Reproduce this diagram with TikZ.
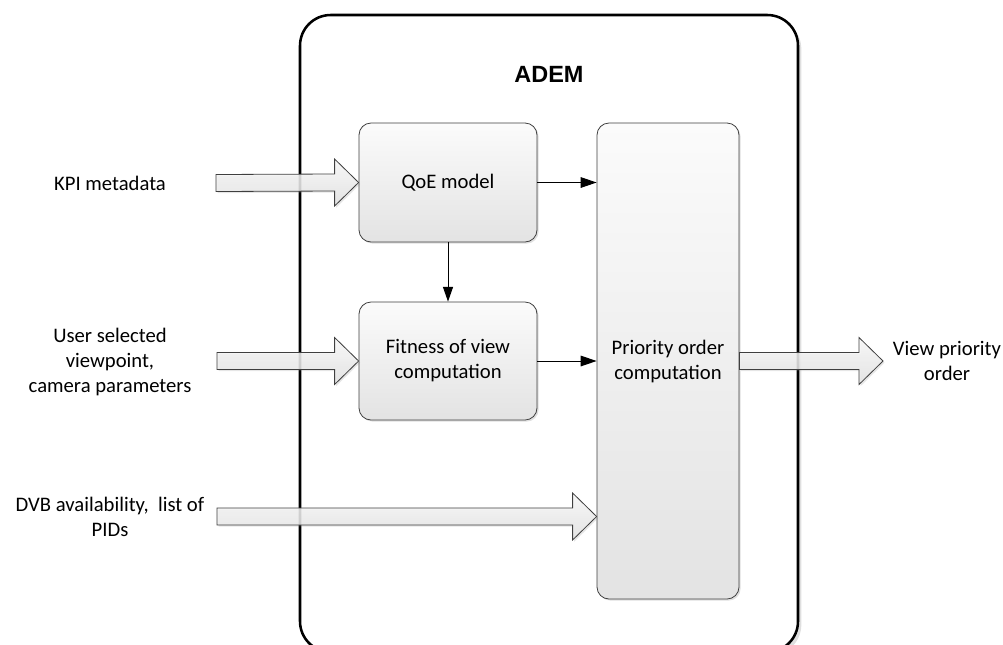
\documentclass[tikz,border=0pt]{standalone}
\usepackage{fontspec}
\setmainfont{Carlito}
\newfontfamily\adfont{Liberation Sans}
\usetikzlibrary{arrows.meta,calc,shadows}
\definecolor{boxline}{HTML}{3F3F3F}
\definecolor{shtop}{HTML}{FBFBFB}
\definecolor{shbot}{HTML}{E3E3E3}
\newcommand\blockarr[2]{%
  \path[barrow] ($(#1)+(0,-8.5)$) -- ($(#2)+(-24,-8.5)$) -- ($(#2)+(-24,-23.5)$) -- (#2)
    -- ($(#2)+(-24,23.5)$) -- ($(#2)+(-24,8.5)$) -- ($(#1)+(0,8.5)$) -- cycle;}
\begin{document}
\begin{tikzpicture}[x=0.75pt,y=-0.75pt,
  txt/.style={font=\fontsize{15.5}{18.75}\selectfont, align=center, inner sep=0pt},
  proc/.style={draw=boxline, line width=0.6pt, rounded corners=9pt, top color=shtop, bottom color=shbot,
    drop shadow={shadow xshift=1.2pt, shadow yshift=-1.2pt, opacity=0.25}, inner sep=0pt,
    font=\fontsize{15.5}{18.75}\selectfont, align=center},
  barrow/.style={draw=boxline, line width=0.6pt, top color=shtop, bottom color=shbot, fill opacity=0.85,
    drop shadow={shadow xshift=1.2pt, shadow yshift=-1.2pt, opacity=0.2}},
  thin/.style={draw=black, line width=0.75pt, -{Triangle[length=12pt,width=8pt]}}]
\useasboundingbox (0,0) rectangle (1003,644);
\begin{scope}
\clip (0,0) rectangle (1003,644);
% outer ADEM container
\draw[line width=1.9pt, rounded corners=23pt, fill=white,
  drop shadow={shadow xshift=2.5pt, shadow yshift=-2.5pt, opacity=0.25}] (300,15) rectangle (798,652);
\end{scope}
\node[font=\adfont\bfseries\fontsize{17.6}{20}\selectfont, inner sep=0pt] (adem) at (549,74) {ADEM};

% process boxes
\node[proc, minimum width=133.5pt, minimum height=89.25pt] (qoe) at (448,182.5) {QoE model};
\node[proc, minimum width=133.5pt, minimum height=88.5pt] (fit) at (448,361) {Fitness of view\\computation};
\node[proc, minimum width=106.5pt, minimum height=357pt] (prio) at (668,361) {Priority order\\computation};

% labels
\node[txt] (kpi) at (110,183) {KPI metadata};
\node[txt] (user) at (110,362) {User selected\\viewpoint,\\camera parameters};
\node[txt] (dvb) at (110,517) {DVB availability,\ \ list of\\PIDs};
\node[txt] (view) at (947,361) {View priority\\order};

% block arrow anchor points
\coordinate (kpiS) at (216,183);
\coordinate (userS) at (217,361);
\coordinate (dvbS) at (217,516.5);
\coordinate (outE) at (883,361);
\coordinate (dvbE) at (prio.west |- dvbS);
\coordinate (outS) at (prio.east |- outE);

\blockarr{kpiS}{qoe.west}
\blockarr{userS}{fit.west}
\blockarr{dvbS}{dvbE}
\blockarr{outS}{outE}

% thin connectors
\draw[thin] (qoe.east) -- (qoe.east -| prio.west);
\draw[thin, -{Triangle[length=11pt,width=7.5pt]}] (qoe.south) -- (fit.north);
\draw[thin] (fit.east) -- (fit.east -| prio.west);
\end{tikzpicture}
\end{document}
